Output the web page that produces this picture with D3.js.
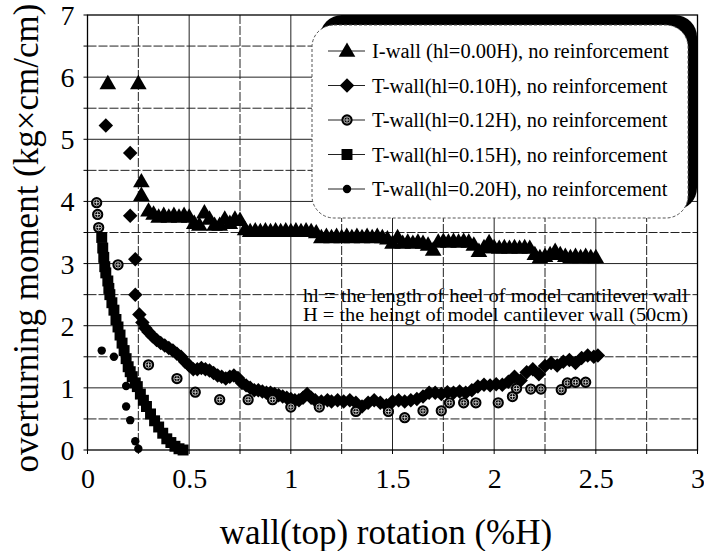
<!DOCTYPE html>
<html>
<head>
<meta charset="utf-8">
<script src="https://cdn.jsdelivr.net/npm/d3@7"></script>
<style>
  html, body { margin: 0; padding: 0; background: #fff; }
  svg text { font-family: "Liberation Serif", "DejaVu Serif", "Times New Roman", serif !important; }
</style>
</head>
<body>
<svg id="chart" width="704" height="551"></svg>
<script>
// ---------------- data ----------------
const seriesNames = [
  "I-wall (hl=0.00H), no reinforcement",
  "T-wall(hl=0.10H), no reinforcement",
  "T-wall(hl=0.12H), no reinforcement",
  "T-wall(hl=0.15H), no reinforcement",
  "T-wall(hl=0.20H), no reinforcement"
];

const xTicks = [0, 0.5, 1, 1.5, 2, 2.5, 3];
const xTickLabels = ["0", "0.5", "1", "1.5", "2", "2.5", "3"];
const yTicks = [0, 1, 2, 3, 4, 5, 6, 7];
const yTickLabels = ["0", "1", "2", "3", "4", "5", "6", "7"];

const xLabel = "wall(top) rotation (%H)";
const yLabel = "overturning  moment (kg\u00d7cm/cm)";
const noteLines = [
  "hl = the length of heel of model cantilever wall",
  "H = the heingt of model cantilever wall (50cm)"
];

// I-wall (hl = 0.00H)
const iWall = [
  [0.10,5.90],[0.25,5.90],[0.265,4.32],[0.265,4.10],
  [0.300,3.85],[0.325,3.80],[0.350,3.75],[0.375,3.78],[0.400,3.75],[0.425,3.78],
  [0.450,3.75],[0.475,3.78],[0.500,3.75],[0.525,3.65],[0.550,3.62],[0.575,3.82],
  [0.600,3.72],[0.625,3.62],[0.650,3.62],[0.675,3.72],[0.700,3.65],[0.725,3.72],
  [0.750,3.70],[0.775,3.55],[0.800,3.52],[0.825,3.53],[0.850,3.52],[0.875,3.53],
  [0.900,3.52],[0.925,3.53],[0.950,3.52],[0.975,3.53],[1.000,3.52],[1.025,3.53],
  [1.050,3.52],[1.075,3.53],[1.100,3.52],[1.125,3.50],[1.150,3.42],[1.175,3.44],
  [1.200,3.42],[1.225,3.44],[1.250,3.42],[1.275,3.44],[1.300,3.42],[1.325,3.44],
  [1.350,3.42],[1.375,3.44],[1.400,3.42],[1.425,3.44],[1.450,3.42],[1.475,3.40],
  [1.500,3.33],[1.525,3.42],[1.550,3.33],[1.575,3.35],[1.600,3.33],[1.625,3.35],
  [1.650,3.33],[1.675,3.30],[1.700,3.22],[1.725,3.35],[1.750,3.36],[1.775,3.35],
  [1.800,3.36],[1.825,3.35],[1.850,3.36],[1.875,3.35],[1.900,3.30],[1.925,3.20],
  [1.950,3.26],[1.975,3.34],[2.000,3.26],[2.025,3.25],[2.050,3.26],[2.075,3.25],
  [2.100,3.26],[2.125,3.25],[2.150,3.26],[2.175,3.25],[2.200,3.15],[2.225,3.10],
  [2.250,3.12],[2.275,3.15],[2.300,3.20],[2.325,3.15],[2.350,3.12],[2.375,3.10],
  [2.400,3.12],[2.425,3.10],[2.450,3.12],[2.475,3.10],[2.500,3.10]
];

// T-wall (hl = 0.10H)
const tWall10 = [
  [0.09,5.22],[0.21,4.78],[0.21,3.77],[0.235,3.07],[0.235,2.50],
  [0.255,2.18],[0.27,2.05],[0.285,1.96],[0.30,1.90],[0.32,1.83],[0.34,1.77],
  [0.36,1.72],[0.38,1.68],[0.40,1.64],[0.42,1.60],[0.44,1.55],[0.46,1.50],
  [0.48,1.42],[0.50,1.36],[0.52,1.30],[0.54,1.30],[0.56,1.32],[0.58,1.30],
  [0.60,1.28],[0.62,1.24],[0.64,1.20],[0.66,1.18],[0.68,1.15],[0.70,1.18],
  [0.72,1.20],[0.74,1.16],[0.76,1.08],[0.78,1.04],[0.80,1.00],[0.82,0.96],
  [0.84,0.96],[0.86,0.94],[0.88,0.92],[0.90,0.92],[0.92,0.90],[0.94,0.88],
  [0.96,0.86],[0.98,0.84],[1.00,0.82],[1.02,0.80],[1.04,0.80],[1.06,0.84],
  [1.08,0.90],[1.10,0.84],[1.12,0.80],[1.15,0.78],[1.18,0.80],[1.20,0.78],
  [1.23,0.80],[1.26,0.78],[1.29,0.80],[1.32,0.76],[1.35,0.70],[1.38,0.76],
  [1.41,0.80],[1.44,0.76],[1.47,0.72],[1.50,0.78],[1.53,0.80],[1.56,0.78],
  [1.59,0.80],[1.62,0.82],[1.65,0.86],[1.68,0.92],[1.71,0.92],[1.74,0.90],
  [1.77,0.93],[1.80,0.92],[1.83,0.94],[1.86,0.92],[1.89,0.96],[1.92,1.02],
  [1.95,1.05],[1.98,1.04],[2.01,1.06],[2.04,1.05],[2.07,1.10],[2.10,1.18],
  [2.13,1.12],[2.16,1.25],[2.19,1.30],[2.22,1.22],[2.25,1.35],[2.28,1.40],
  [2.31,1.36],[2.34,1.42],[2.37,1.45],[2.40,1.40],[2.43,1.48],[2.46,1.52],
  [2.49,1.50],[2.51,1.52]
];

// T-wall (hl = 0.12H)
const tWall12 = [
  [0.045,3.98],[0.05,3.79],[0.055,3.58],[0.15,2.98],[0.30,1.37],[0.44,1.15],
  [0.53,0.93],[0.65,0.81],[0.79,0.81],[0.91,0.81],[1.00,0.69],[1.14,0.69],
  [1.32,0.62],[1.48,0.62],[1.56,0.52],[1.65,0.63],[1.74,0.63],[1.78,0.76],
  [1.85,0.76],[1.91,0.76],[2.02,0.76],[2.09,0.86],[2.11,0.99],[2.18,0.98],
  [2.23,0.98],[2.33,0.97],[2.36,1.08],[2.40,1.09],[2.45,1.09]
];

// T-wall (hl = 0.15H)
const tWall15 = [
  [0.070,3.42],[0.075,3.25],[0.080,3.10],[0.085,2.95],[0.090,2.85],[0.100,2.72],
  [0.105,2.60],[0.110,2.50],[0.120,2.37],[0.130,2.25],[0.140,2.10],[0.150,1.98],
  [0.160,1.85],[0.170,1.72],[0.180,1.60],[0.190,1.47],[0.200,1.34],[0.210,1.26],
  [0.220,1.18],[0.235,1.08],[0.245,1.02],[0.260,0.90],[0.275,0.80],[0.290,0.70],
  [0.310,0.58],[0.330,0.47],[0.350,0.37],[0.370,0.27],[0.390,0.18],[0.410,0.12],
  [0.430,0.06],[0.450,0.02],[0.470,0.00]
];

// T-wall (hl = 0.20H)
const tWall20 = [
  [0.07,1.60],[0.13,1.50],[0.19,1.03],[0.19,0.70],[0.21,0.48],[0.235,0.14],[0.25,0.02]
];

// ---------------- layout ----------------
const FONT = "'Liberation Serif', 'DejaVu Serif', serif";
const svg = d3.select("#chart");
const X0 = 87.5, X1 = 697.5, Y0 = 450, Y1 = 15;
const x = d3.scaleLinear().domain([0, 3]).range([X0, X1]);
const y = d3.scaleLinear().domain([0, 7]).range([Y0, Y1]);

svg.append("rect").attr("width", 704).attr("height", 551).attr("fill", "#fff");

// grid
const g = svg.append("g");
const vGrid = d3.range(1, 12).map(i => i * 0.25);
const hGrid = d3.range(1, 14).map(i => i * 0.5);
g.selectAll("line.v").data(vGrid).join("line")
  .attr("x1", d => x(d)).attr("x2", d => x(d))
  .attr("y1", Y1).attr("y2", Y0)
  .attr("stroke", "#222").attr("stroke-width", 1)
  .attr("stroke-dasharray", (d, i) => (i % 2 === 0 ? "9,2" : null));
g.selectAll("line.h").data(hGrid).join("line")
  .attr("x1", X0).attr("x2", X1)
  .attr("y1", d => y(d)).attr("y2", d => y(d))
  .attr("stroke", "#222").attr("stroke-width", 1)
  .attr("stroke-dasharray", (d, i) => (i % 2 === 0 ? "9,2" : null));

// axes via d3 axis
const xAxis = d3.axisBottom(x).tickValues(xTicks).tickSize(0).tickPadding(0)
  .tickFormat((d, i) => xTickLabels[i]);
const yAxis = d3.axisLeft(y).tickValues(yTicks).tickSize(0).tickPadding(0)
  .tickFormat((d, i) => yTickLabels[i]);

const gx = svg.append("g").attr("transform", `translate(0,${Y0})`).call(xAxis)
  .attr("font-family", FONT);
gx.select(".domain").remove();
gx.selectAll("text").style("font-family", FONT).attr("font-size", 28)
  .attr("fill", "#000").attr("dy", null).attr("y", 38);

const gy = svg.append("g").attr("transform", `translate(${X0},0)`).call(yAxis)
  .attr("font-family", FONT);
gy.select(".domain").remove();
gy.selectAll("text").style("font-family", FONT).attr("font-size", 28)
  .attr("fill", "#000").attr("x", -13).attr("dy", "0.34em");

// small tick marks
svg.append("g").selectAll("line").data(d3.range(0, 13).map(i => i * 0.25)).join("line")
  .attr("x1", d => x(d)).attr("x2", d => x(d)).attr("y1", Y0).attr("y2", Y0 + 4)
  .attr("stroke", "#000");
svg.append("g").selectAll("line").data(d3.range(0, 15).map(i => i * 0.5)).join("line")
  .attr("x1", X0 - 4).attr("x2", X0).attr("y1", d => y(d)).attr("y2", d => y(d))
  .attr("stroke", "#000");

// plot border
svg.append("rect").attr("x", X0).attr("y", Y1).attr("width", X1 - X0).attr("height", Y0 - Y1)
  .attr("fill", "none").attr("stroke", "#000").attr("stroke-width", 1.3);

// axis labels
svg.append("text").attr("x", 386).attr("y", 544).attr("text-anchor", "middle")
  .style("font-family", FONT).attr("font-size", 35).text(xLabel);
svg.append("text").attr("transform", "translate(38,238) rotate(-90)")
  .style("font-family", FONT).attr("text-anchor", "middle").attr("font-size", 35).text(yLabel);

// annotation
svg.append("g").selectAll("text").data(noteLines).join("text")
  .attr("x", 303).attr("y", (d, i) => 302 + i * 19)
  .style("font-family", FONT)
  .attr("font-size", 19).attr("textLength", 385).attr("lengthAdjust", "spacingAndGlyphs")
  .text(d => d);

// ---------------- markers ----------------
const triPath = d3.symbol(d3.symbolTriangle, 120)();
const diaPath = d3.symbol(d3.symbolSquare, 105)();
const sqPath = d3.symbol(d3.symbolSquare, 120)();
const circPath = d3.symbol(d3.symbolCircle, 100)();
const dotPath = d3.symbol(d3.symbolCircle, 55)();

function drawMarker(sel, kind) {
  if (kind === 0) {
    sel.append("path").attr("d", triPath).attr("transform", "translate(0,1)").attr("fill", "#000");
  } else if (kind === 1) {
    sel.append("path").attr("d", diaPath).attr("transform", "rotate(45)").attr("fill", "#000");
  } else if (kind === 2) {
    sel.append("path").attr("d", circPath).attr("fill", "#000");
    sel.append("circle").attr("r", 3.2).attr("fill", "none").attr("stroke", "#fff").attr("stroke-width", 0.7);
    sel.append("line").attr("x1", -2.5).attr("x2", 2.5).attr("y1", 0).attr("y2", 0).attr("stroke", "#fff").attr("stroke-width", 0.7);
    sel.append("line").attr("x1", 0).attr("x2", 0).attr("y1", -2.5).attr("y2", 2.5).attr("stroke", "#fff").attr("stroke-width", 0.7);
  } else if (kind === 3) {
    sel.append("path").attr("d", sqPath).attr("fill", "#000");
  } else {
    sel.append("path").attr("d", dotPath).attr("fill", "#000");
  }
}

const allSeries = [iWall, tWall10, tWall12, tWall15, tWall20];
const plot = svg.append("g");
allSeries.forEach((data, k) => {
  plot.append("g").selectAll("g").data(data).join("g")
    .attr("transform", d => `translate(${x(d[0])},${y(d[1])})`)
    .each(function () { drawMarker(d3.select(this), k); });
});

// ---------------- legend ----------------
const leg = svg.append("g");
leg.append("rect").attr("x", 320).attr("y", 15).attr("width", 377).attr("height", 195)
  .attr("rx", 22).attr("fill", "#000");
leg.append("rect").attr("x", 312).attr("y", 25).attr("width", 376).attr("height", 193)
  .attr("rx", 22).attr("fill", "#fff").attr("stroke", "#555").attr("stroke-width", 1)
  .attr("stroke-dasharray", "3,2");

const rows = leg.selectAll("g.row").data(seriesNames).join("g")
  .attr("transform", (d, i) => `translate(0,${51 + i * 34.5})`);
rows.append("line").attr("x1", 328).attr("x2", 365).attr("y1", 0).attr("y2", 0)
  .attr("stroke", "#222").attr("stroke-width", 1);
rows.append("g").attr("transform", "translate(347,0)")
  .each(function (d, i) { drawMarker(d3.select(this), i); });
rows.append("text").attr("x", 372).attr("y", 7).style("font-family", FONT)
  .attr("font-size", 20.5).text(d => d);
</script>
</body>
</html>
